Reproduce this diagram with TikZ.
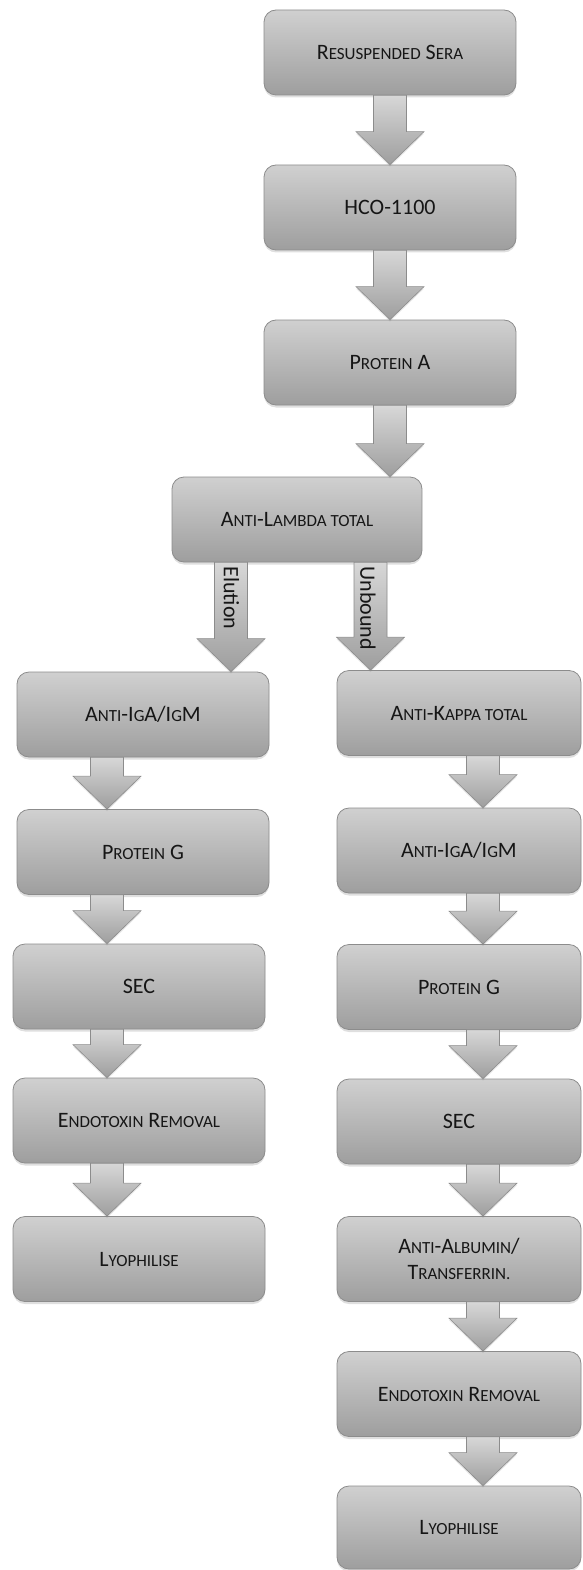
\documentclass[tikz,border=0pt]{standalone}
\usepackage{fontspec}
\setmainfont{Carlito}
\usetikzlibrary{calc,shadows}

\definecolor{boxtop}{RGB}{208,208,208}
\definecolor{boxbot}{RGB}{158,158,158}
\definecolor{boxline}{RGB}{140,140,140}
\definecolor{inktext}{RGB}{22,22,22}

% small caps by hand (Carlito has none)
\newcommand{\smc}[1]{{\fontsize{17}{20}\selectfont\MakeUppercase{#1}}}

% fat grey arrow from the bottom of box #1 to the top of box #2, centred at x=#3
\newcommand{\fatarrow}[3]{%
  \path[fat] let \p1=(#1.south), \p2=(#2.north) in
    ({#3pt-16.5pt},\y1) -- ({#3pt+16.5pt},\y1) -- ({#3pt+16.5pt},{\y2+33pt})
    -- ({#3pt+34pt},{\y2+33pt}) -- (#3pt,\y2) -- ({#3pt-34pt},{\y2+33pt})
    -- ({#3pt-16.5pt},{\y2+33pt}) -- cycle;}

\begin{document}
\begin{tikzpicture}[x=1pt, y=-1pt, font=\fontsize{22}{26}\selectfont, text=inktext]
        \tikzstyle{stage}=[rectangle, rounded corners=12pt, draw=boxline, line width=0.8pt,
          top color=boxtop, bottom color=boxbot, minimum width=252pt, minimum height=85pt,
          inner sep=2pt, align=center,
          drop shadow={opacity=0.25, shadow xshift=0pt, shadow yshift=-2.5pt}]
        \tikzstyle{fat}=[draw=boxline, line width=0.6pt, top color=boxtop!85!white, bottom color=boxbot,
          drop shadow={opacity=0.2, shadow xshift=0pt, shadow yshift=-2pt}]
        \tikzstyle{side}=[rotate=-90, anchor=west, inner sep=0pt]

        \useasboundingbox (0,0) rectangle (582,1570);

        % Trunk
        \node[stage] (sera) at (390,52.5) {R\smc{esuspended} S\smc{era}};
        \node[stage] (hco) at (390,207.5) {HCO-1100};
        \node[stage] (prota) at (390,362.5) {P\smc{rotein} A};
        \node[stage, minimum width=250pt] (lambda) at (297,519.5) {A\smc{nti}-L\smc{ambda total}};

        % Elution branch
        \node[stage] (eiga) at (143,714.5) {A\smc{nti}-I\smc{g}A/I\smc{g}M};
        \node[stage] (eprotg) at (143,852) {P\smc{rotein} G};
        \node[stage] (esec) at (139,986.5) {SEC};
        \node[stage] (eendo) at (139,1120.5) {E\smc{ndotoxin} R\smc{emoval}};
        \node[stage] (elyo) at (139,1259) {L\smc{yophilise}};

        % Unbound branch
        \node[stage, minimum width=244pt] (kappa) at (459,713) {A\smc{nti}-K\smc{appa total}};
        \node[stage, minimum width=244pt] (uiga) at (459,850.5) {A\smc{nti}-I\smc{g}A/I\smc{g}M};
        \node[stage, minimum width=244pt] (uprotg) at (459,987) {P\smc{rotein} G};
        \node[stage, minimum width=244pt] (usec) at (459,1121.5) {SEC};
        \node[stage, minimum width=244pt] (ualb) at (459,1259) {A\smc{nti}-A\smc{lbumin}/\\T\smc{ransferrin.}};
        \node[stage, minimum width=244pt] (uendo) at (459,1394) {E\smc{ndotoxin} R\smc{emoval}};
        \node[stage, minimum width=244pt, minimum height=83pt] (ulyo) at (459,1527.5) {L\smc{yophilise}};

        % Arrows
        \fatarrow{sera}{hco}{390}
        \fatarrow{hco}{prota}{390}
        \fatarrow{prota}{lambda}{390}
        \fatarrow{lambda}{eiga}{231}
        \fatarrow{lambda}{kappa}{370.5}
        \fatarrow{eiga}{eprotg}{107}
        \fatarrow{eprotg}{esec}{107}
        \fatarrow{esec}{eendo}{107}
        \fatarrow{eendo}{elyo}{107}
        \fatarrow{kappa}{uiga}{483}
        \fatarrow{uiga}{uprotg}{483}
        \fatarrow{uprotg}{usec}{483}
        \fatarrow{usec}{ualb}{483}
        \fatarrow{ualb}{uendo}{483}
        \fatarrow{uendo}{ulyo}{483}

        % Branch labels
        \node[side] (elution) at ($(lambda.south -| 231.5,0)+(0,4)$) {Elution};
        \node[side] (unbound) at ($(lambda.south -| 368,0)+(0,4)$) {Unbound};
\end{tikzpicture}
\end{document}
